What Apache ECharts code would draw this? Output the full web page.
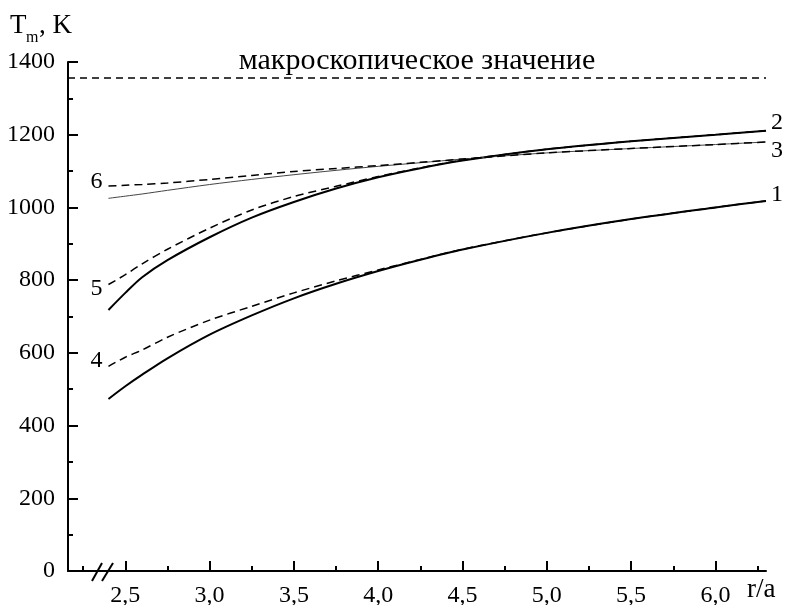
<!DOCTYPE html>
<html>
<head>
<meta charset="utf-8">
<script src="https://cdn.jsdelivr.net/npm/echarts@6/dist/echarts.min.js"></script>
<style>
  html, body { margin: 0; padding: 0; background: #fff; }
  #chart { width: 786px; height: 605px; }
</style>
</head>
<body>
<div id="chart"></div>
<script>
// r/a grid shared by all curves
const rValues = [2.4, 2.5, 2.6, 2.75, 3.0, 3.25, 3.5, 3.75, 4.0, 4.25, 4.5, 5.0, 5.5, 6.0, 6.3]

// T_m, K
const curve1 = [473, 508, 540, 585, 650, 703, 750, 790, 825, 856, 884, 930, 968, 1000, 1018]
const curve2 = [718, 765, 808, 855, 918, 972, 1015, 1052, 1083, 1108, 1129, 1160, 1182, 1200, 1211]
const curve3 = [1025, 1031, 1037, 1047, 1063, 1077, 1090, 1102, 1113, 1123, 1133, 1150, 1162, 1173, 1180]
const curve4 = [563, 588, 608, 643, 690, 728, 765, 798, 828, 857, 885, 930, 968, 1000, 1018]
const curve5 = [788, 815, 845, 885, 943, 993, 1030, 1058, 1085, 1109, 1130, 1160, 1182, 1200, 1211]
const curve6 = [1059, 1061, 1063, 1067, 1077, 1088, 1099, 1107, 1115, 1124, 1133, 1150, 1162, 1173, 1180]

const macroTm = 1357
const xMajorTicks = [2.5, 3.0, 3.5, 4.0, 4.5, 5.0, 5.5, 6.0]
const xMinorTicks = [2.25, 2.75, 3.25, 3.75, 4.25, 4.75, 5.25, 5.75, 6.25]

const serif = '"Liberation Serif", "DejaVu Serif", serif'

function pairs(ys) {
  return rValues.map((r, i) => [r, ys[i]])
}

function solid(name, ys, width, color, endText, endOffset) {
  return {
    name: name,
    type: 'line',
    data: pairs(ys),
    smooth: 0.3,
    symbol: 'none',
    lineStyle: { color: color, width: width },
    endLabel: {
      show: true,
      formatter: endText,
      offset: endOffset,
      distance: 5,
      color: '#000',
      fontFamily: serif,
      fontSize: 24
    },
    z: 2
  }
}

function dashed(name, ys, startText, startOffset) {
  return {
    name: name,
    type: 'line',
    data: pairs(ys),
    smooth: 0.3,
    symbol: 'none',
    lineStyle: { color: '#000', width: 1.5, type: [8, 5] },
    markPoint: {
      silent: true,
      symbol: 'circle',
      symbolSize: 2,
      itemStyle: { color: 'rgba(0,0,0,0)' },
      label: {
        show: true,
        position: 'left',
        distance: 5,
        offset: startOffset,
        formatter: startText,
        color: '#000',
        fontFamily: serif,
        fontSize: 24
      },
      data: [{ coord: [rValues[0], ys[0]] }]
    },
    z: 3
  }
}

const chart = echarts.init(document.getElementById('chart'))

chart.setOption({
  backgroundColor: '#fff',
  animation: false,
  grid: { left: 68, right: 20, top: 62, bottom: 34, outerBoundsMode: 'none' },
  xAxis: [{
    type: 'value',
    min: 2.16,
    max: 6.3,
    axisLine: { show: true, lineStyle: { color: '#000', width: 2 } },
    axisTick: { show: true, inside: true, length: 10, customValues: xMajorTicks, lineStyle: { color: '#000', width: 2 } },
    axisLabel: {
      customValues: xMajorTicks,
      margin: 13,
      color: '#000',
      fontFamily: serif,
      fontSize: 24,
      formatter: v => v.toFixed(1).replace('.', ',')
    },
    splitLine: { show: false }
  }, {
    type: 'value',
    position: 'bottom',
    min: 2.16,
    max: 6.3,
    axisLine: { show: false },
    axisTick: { show: true, inside: true, length: 5, customValues: xMinorTicks, lineStyle: { color: '#000', width: 2 } },
    axisLabel: { show: false },
    splitLine: { show: false }
  }],
  yAxis: {
    type: 'value',
    min: 0,
    max: 1400,
    interval: 200,
    axisLine: { show: true, lineStyle: { color: '#000', width: 2 } },
    axisTick: { show: true, inside: true, length: 10, lineStyle: { color: '#000', width: 2 } },
    minorTick: { show: true, splitNumber: 2, length: 5, lineStyle: { color: '#000', width: 2 } },
    axisLabel: { margin: 13, color: '#000', fontFamily: serif, fontSize: 24, formatter: v => String(v) },
    splitLine: { show: false }
  },
  series: [
    Object.assign(solid('1', curve1, 2, '#000', '1', [0, -6]), {
      markLine: {
        silent: true,
        symbol: 'none',
        lineStyle: { color: '#000', width: 1.5, type: [7, 5] },
        label: {
          show: true,
          position: 'insideMiddleTop',
          distance: 2,
          formatter: 'макроскопическое значение',
          color: '#000',
          fontFamily: serif,
          fontSize: 30
        },
        data: [{ yAxis: macroTm }]
      }
    }),
    solid('2', curve2, 2, '#000', '2', [0, -8]),
    solid('3', curve3, 1, '#444', '3', [0, 9]),
    dashed('4', curve4, '4', [0, -6]),
    dashed('5', curve5, '5', [0, 4]),
    dashed('6', curve6, '6', [0, -4])
  ],
  graphic: [
    { type: 'text', left: 10, top: 12, style: { text: 'T', font: '27px ' + serif, fill: '#000' } },
    { type: 'text', left: 26, top: 30, style: { text: 'm', font: '16px ' + serif, fill: '#000' } },
    { type: 'text', left: 39, top: 12, style: { text: ', K', font: '27px ' + serif, fill: '#000' } },
    { type: 'text', left: 747, top: 576, style: { text: 'r/a', font: '27px ' + serif, fill: '#000' } },
    // axis break mark
    { type: 'line', shape: { x1: 92, y1: 581, x2: 102, y2: 563 }, style: { stroke: '#000', lineWidth: 2 } },
    { type: 'line', shape: { x1: 102, y1: 581, x2: 113, y2: 563 }, style: { stroke: '#000', lineWidth: 2 } }
  ]
})
</script>
</body>
</html>
